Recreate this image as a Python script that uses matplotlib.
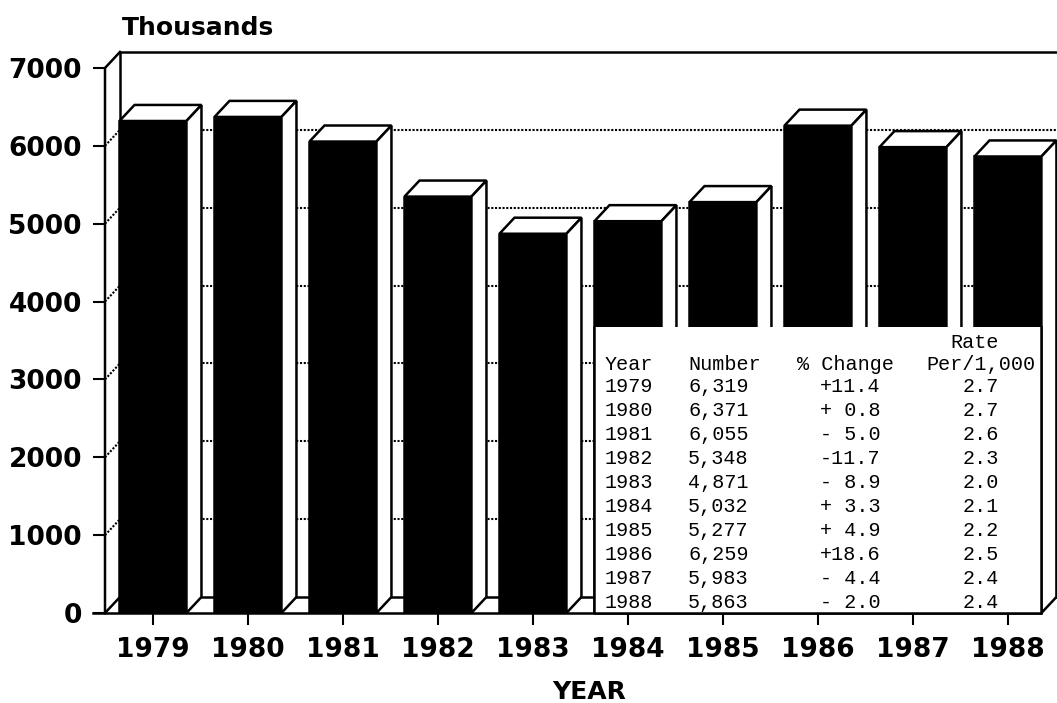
import matplotlib
matplotlib.use('Agg')
import matplotlib.pyplot as plt
from matplotlib.patches import Polygon, Rectangle

years = ['1979', '1980', '1981', '1982', '1983', '1984', '1985', '1986', '1987', '1988']
number = [6319, 6371, 6055, 5348, 4871, 5032, 5277, 6259, 5983, 5863]  # thousands
pct_change = ['+11.4', '+ 0.8', '- 5.0', '-11.7', '- 8.9', '+ 3.3', '+ 4.9', '+18.6', '- 4.4', '- 2.0']
rate = ['2.7', '2.7', '2.6', '2.3', '2.0', '2.1', '2.2', '2.5', '2.4', '2.4']
number_txt = ['6,319', '6,371', '6,055', '5,348', '4,871', '5,032', '5,277', '6,259', '5,983', '5,863']
yticks = [0, 1000, 2000, 3000, 4000, 5000, 6000, 7000]

W, H = 1057, 703
fig = plt.figure(figsize=(W / 100, H / 100), dpi=100)
ax = fig.add_axes([105 / W, 90 / H, 953 / W, 561 / H])
x0, xr = -0.505, 9.527
ax.set_xlim(x0, xr)
ax.set_ylim(0, 7205)
for s in ax.spines.values():
    s.set_visible(False)

dx, dy = 0.158, 206  # depth of the fake 3d, in data units
bw = 0.705  # bar width
top = yticks[-1]
lw = 1.8
xs = list(range(len(years)))


def px(x, y):  # picture pixels -> figure fraction (for the text block)
    return x / W, 1 - y / H


# back wall and left wall
ax.plot([x0 + dx, x0 + dx, xr + 0.2], [dy, top + dy, top + dy], color='k', lw=lw, clip_on=False, zorder=1)
ax.plot([x0, x0, x0 + dx], [0, top, top + dy], color='k', lw=lw, clip_on=False, zorder=1)
for v in yticks[1:-1]:
    ax.plot([x0 + dx, xr + 0.2], [v + dy, v + dy], color='k', lw=1.5, ls=(0, (1, 0.8)), clip_on=False, zorder=1)
    ax.plot([x0, x0 + dx], [v, v + dy], color='k', lw=1.5, ls=(0, (1, 0.8)), clip_on=False, zorder=1)

# floor
right = xs[-1] + bw / 2
ax.plot([x0 - 0.126, right], [0, 0], color='k', lw=lw, clip_on=False, zorder=2)
ax.plot([x0, x0 + dx], [0, dy], color='k', lw=lw, clip_on=False, zorder=2)
ax.plot([x0 + dx, right + dx], [dy, dy], color='k', lw=lw, clip_on=False, zorder=2)

# bars: black front, white top and side
ax.bar(xs, number, width=bw, color='k', edgecolor='k', lw=lw, zorder=3)
for x, v in zip(xs, number):
    l, r = x - bw / 2, x + bw / 2
    ax.add_patch(Polygon([(l, v), (r, v), (r + dx, v + dy), (l + dx, v + dy)],
                         closed=True, fc='white', ec='k', lw=lw, zorder=3, clip_on=False))
    ax.add_patch(Polygon([(r, 0), (r + dx, dy), (r + dx, v + dy), (r, v)],
                         closed=True, fc='white', ec='k', lw=lw, zorder=3, clip_on=False))

# table box pasted over the last five bars
tl, tr, tt = xs[5] - bw / 2, xs[9] + bw / 2, 3670
ax.add_patch(Rectangle((tl, 0), tr - tl, tt, fc='white', ec='none', zorder=5))
ax.plot([tl, tl, tr, tr], [tt, 0, 0, tt], color='k', lw=lw, zorder=6, clip_on=False)

ax.set_xticks(xs)
ax.set_xticklabels(years, fontsize=19, fontweight='bold')
ax.set_yticks(yticks)
ax.set_yticklabels([str(v) for v in yticks], fontsize=19, fontweight='bold')
ax.tick_params(axis='x', length=8.6, width=1.5, pad=9, direction='out')
ax.tick_params(axis='y', length=8.6, width=1.5, pad=8, direction='out')

ax.set_xlabel('YEAR', fontsize=18, fontweight='bold')
ax.xaxis.set_label_coords((589 - 105) / 953, (613 - 680) / 561)
fig.text(*px(122, 28), 'Thousands', fontsize=18, fontweight='bold', ha='left', va='center')

mono = dict(family='Liberation Mono', fontsize=14.5, va='center', zorder=7)
fig.text(*px(975, 343), 'Rate', ha='center', **mono)
fig.text(*px(605, 365), 'Year', ha='left', **mono)
fig.text(*px(688, 365), 'Number', ha='left', **mono)
fig.text(*px(797, 365), '% Change', ha='left', **mono)
fig.text(*px(926, 365), 'Per/1,000', ha='left', **mono)
for k in range(len(years)):
    yy = 387 + 23.9 * k
    fig.text(*px(605, yy), years[k], ha='left', **mono)
    fig.text(*px(688, yy), number_txt[k], ha='left', **mono)
    fig.text(*px(820, yy), pct_change[k], ha='left', **mono)
    fig.text(*px(963, yy), rate[k], ha='left', **mono)

fig.savefig('out.png', dpi=100, facecolor='white')
